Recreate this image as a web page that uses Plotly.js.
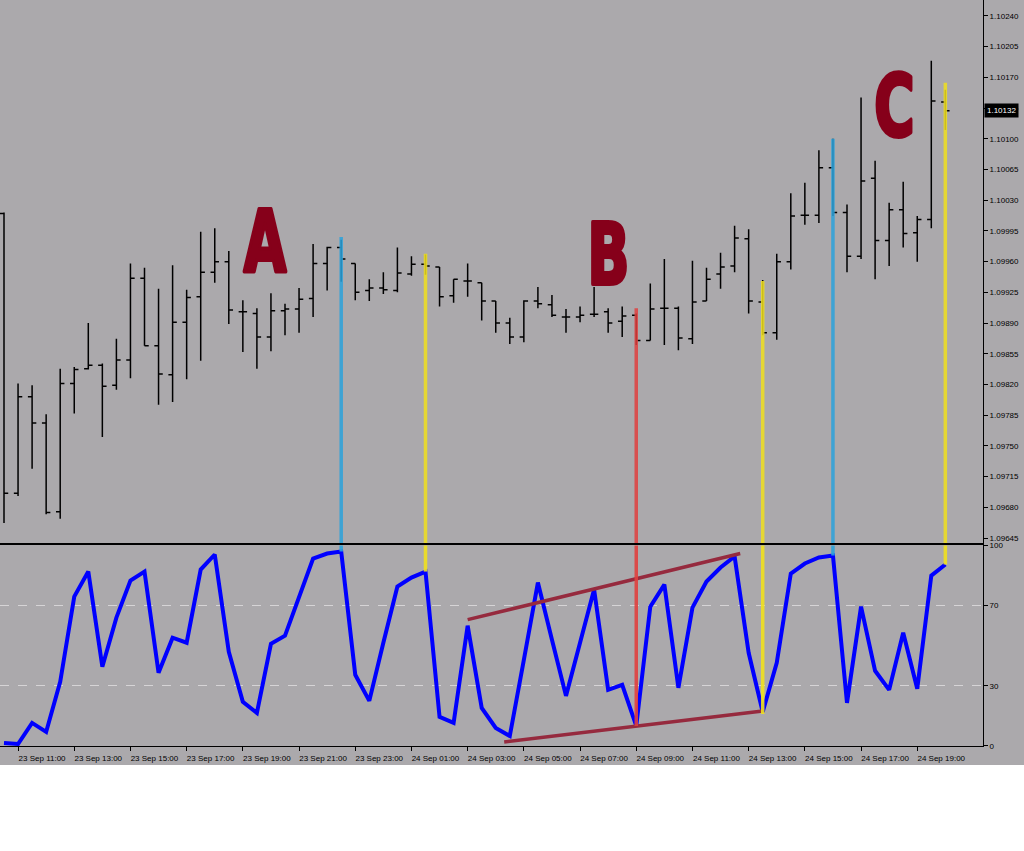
<!DOCTYPE html>
<html>
<head>
<meta charset="utf-8">
<script src="https://cdn.plot.ly/plotly-3.0.1.min.js"></script>
<style>
html,body{margin:0;padding:0;background:#ffffff;}
#chart{width:1024px;height:765px;}
</style>
</head>
<body>
<div id="chart"></div>
<script>
// ---------------- DATA ----------------
const times = [
 '2015-09-23 10:30','2015-09-23 11:00','2015-09-23 11:30','2015-09-23 12:00','2015-09-23 12:30','2015-09-23 13:00',
 '2015-09-23 13:30','2015-09-23 14:00','2015-09-23 14:30','2015-09-23 15:00','2015-09-23 15:30','2015-09-23 16:00',
 '2015-09-23 16:30','2015-09-23 17:00','2015-09-23 17:30','2015-09-23 18:00','2015-09-23 18:30','2015-09-23 19:00',
 '2015-09-23 19:30','2015-09-23 20:00','2015-09-23 20:30','2015-09-23 21:00','2015-09-23 21:30','2015-09-23 22:00',
 '2015-09-23 22:30','2015-09-23 23:00','2015-09-23 23:30','2015-09-24 00:00','2015-09-24 00:30','2015-09-24 01:00',
 '2015-09-24 01:30','2015-09-24 02:00','2015-09-24 02:30','2015-09-24 03:00','2015-09-24 03:30','2015-09-24 04:00',
 '2015-09-24 04:30','2015-09-24 05:00','2015-09-24 05:30','2015-09-24 06:00','2015-09-24 06:30','2015-09-24 07:00',
 '2015-09-24 07:30','2015-09-24 08:00','2015-09-24 08:30','2015-09-24 09:00','2015-09-24 09:30','2015-09-24 10:00',
 '2015-09-24 10:30','2015-09-24 11:00','2015-09-24 11:30','2015-09-24 12:00','2015-09-24 12:30','2015-09-24 13:00',
 '2015-09-24 13:30','2015-09-24 14:00','2015-09-24 14:30','2015-09-24 15:00','2015-09-24 15:30','2015-09-24 16:00',
 '2015-09-24 16:30','2015-09-24 17:00','2015-09-24 17:30','2015-09-24 18:00','2015-09-24 18:30','2015-09-24 19:00',
 '2015-09-24 19:30','2015-09-24 20:00'
];
const open = [
 1.10015,1.09696,1.09806,1.09776,1.09675,1.09821,1.09838,1.09842,1.09819,1.09848,1.09941,1.09864,
 1.09831,1.09891,1.09920,1.09948,1.09960,1.09903,1.09901,1.09874,1.09904,1.09906,1.09918,1.09958,
 1.09976,1.09958,1.09927,1.09930,1.09927,1.09946,1.09957,1.09954,1.09921,1.09938,1.09936,1.09915,
 1.09890,1.09874,1.09915,1.09911,1.09897,1.09897,1.09900,1.09903,1.09892,1.09899,1.09870,1.09907,
 1.09907,1.09872,1.09915,1.09946,1.09955,1.09986,1.09914,1.09879,1.09960,1.10013,1.10013,1.10067,
 1.10016,1.09966,1.10055,1.09984,1.10019,1.09993,1.10008,1.10142
];
const high = [
 1.10016,1.09821,1.09819,1.09786,1.09838,1.09840,1.09890,1.09844,1.09872,1.09958,1.09953,1.09929,
 1.09956,1.09928,1.09994,1.09998,1.09972,1.09916,1.09907,1.09924,1.09912,1.09930,1.09980,1.09977,
 1.09985,1.09958,1.09940,1.09948,1.09976,1.09966,1.09968,1.09954,1.09940,1.09958,1.09936,1.09915,
 1.09896,1.09916,1.09931,1.09922,1.09906,1.09909,1.09931,1.09907,1.09909,1.09901,1.09935,1.09963,
 1.09909,1.09961,1.09953,1.09970,1.10001,1.09997,1.09939,1.09969,1.10038,1.10050,1.10087,1.10100,
 1.10025,1.10147,1.10075,1.10027,1.10051,1.10012,1.10189,1.10156
];
const low = [
 1.09662,1.09693,1.09724,1.09672,1.09667,1.09787,1.09837,1.09760,1.09814,1.09827,1.09864,1.09797,
 1.09800,1.09826,1.09847,1.09936,1.09889,1.09857,1.09838,1.09858,1.09876,1.09879,1.09897,1.09927,
 1.09937,1.09916,1.09915,1.09923,1.09925,1.09944,1.09945,1.09909,1.09913,1.09920,1.09893,1.09879,
 1.09866,1.09868,1.09907,1.09897,1.09879,1.09891,1.09897,1.09879,1.09874,1.09865,1.09870,1.09865,
 1.09859,1.09866,1.09915,1.09929,1.09948,1.09901,1.09876,1.09871,1.09951,1.10002,1.10004,1.10012,
 1.09948,1.09963,1.09940,1.09955,1.09976,1.09960,1.09998,1.10110
];
const close = [
 1.09696,1.09806,1.09776,1.09674,1.09821,1.09837,1.09842,1.09818,1.09848,1.09941,1.09864,1.09832,
 1.09891,1.09919,1.09948,1.09960,1.09905,1.09903,1.09874,1.09904,1.09906,1.09917,1.09958,1.09976,
 1.09963,1.09925,1.09930,1.09928,1.09947,1.09957,1.09955,1.09920,1.09940,1.09938,1.09915,1.09890,
 1.09874,1.09915,1.09912,1.09899,1.09897,1.09899,1.09900,1.09890,1.09898,1.09870,1.09906,1.09907,
 1.09873,1.09914,1.09940,1.09954,1.09987,1.09915,1.09879,1.09960,1.10012,1.10013,1.10067,1.10016,
 1.09966,1.10052,1.09984,1.10019,1.09992,1.10008,1.10143,1.10132
];
const stoch = [
 1.5,1,11.5,7,32,74.5,87,39.5,64,82.5,87,36.5,
 54,51.5,88,95.5,47,22,16.5,51,55,74.5,93.5,96,
 97,35.5,22.5,51.5,79.5,84,87,14.5,11.5,60,19,9,
 5,43,81.5,53,25,51.5,78,28,30.5,10,69.5,80.5,
 29,69,82,89,94.5,46.5,17,41.5,86,91,94,95,
 21.5,69.5,37.5,28,56.5,28.5,85,90.5
];
// marker lines joining price and oscillator
const markTimes  = ['2015-09-23 22:30','2015-09-24 01:30','2015-09-24 09:00','2015-09-24 13:30','2015-09-24 16:00','2015-09-24 20:00'];
const markPrices = [1.09988,1.09969,1.09907,1.09938,1.10100,1.10164];
const markOsc    = [97,87,10,16,95,90.5];
const markKinds  = ['blue','yellow','red','yellow','blue','yellow'];
// oscillator trend lines
const upperTimes = ['2015-09-24 03:00','2015-09-24 12:42'];
const upperVals  = [63,96];
const lowerTimes = ['2015-09-24 04:18','2015-09-24 13:30'];
const lowerVals  = [2,17.5];
// big letters
const letters      = ['A','B','C'];
const letterTimes  = ['2015-09-23 19:48','2015-09-24 08:00','2015-09-24 18:12'];
const letterPrices = [1.09984,1.09969,1.10137];
// axes
const priceTick0 = 1.09645, priceDtick = 0.00035;
const oscTicks = [0,30,70,100];
const timeTicks = [
 '2015-09-23 11:00','2015-09-23 13:00','2015-09-23 15:00','2015-09-23 17:00','2015-09-23 19:00','2015-09-23 21:00',
 '2015-09-23 23:00','2015-09-24 01:00','2015-09-24 03:00','2015-09-24 05:00','2015-09-24 07:00','2015-09-24 09:00',
 '2015-09-24 11:00','2015-09-24 13:00','2015-09-24 15:00','2015-09-24 17:00','2015-09-24 19:00'
];

// ---------------- STYLE / BUILD ----------------
const BG = '#aba9ac';
const kindColor = {blue:'#2ba3dc', yellow:'#f0e01e', red:'#e0403f'};
const priceRange = [1.096393, 1.102582];
const oscRange = [0, 100];
const xRange = ['2015-09-23 10:21:27', '2015-09-24 21:20:24'];

const traces = [
 {type:'ohlc', x:times, open:open, high:high, low:low, close:close, xaxis:'x', yaxis:'y',
  increasing:{line:{color:'#000', width:1.5}}, decreasing:{line:{color:'#000', width:1.5}},
  tickwidth:0.3, hoverinfo:'skip'},
 {type:'scatter', mode:'lines', x:times, y:stoch, xaxis:'x2', yaxis:'y2',
  line:{color:'#0000ff', width:4}, hoverinfo:'skip'}
];

const shapes = [];
shapes.push({type:'line', xref:'x2', yref:'y2', x0:lowerTimes[0], x1:lowerTimes[1], y0:lowerVals[0], y1:lowerVals[1],
  line:{color:'#962a3e', width:3.5}, layer:'above'});
shapes.push({type:'line', xref:'x2', yref:'y2', x0:upperTimes[0], x1:upperTimes[1], y0:upperVals[0], y1:upperVals[1],
  line:{color:'#962a3e', width:3.5}, layer:'above'});
markTimes.forEach((t,i)=>{
  const c = kindColor[markKinds[i]];
  shapes.push({type:'line', xref:'x', yref:'y', x0:t, x1:t, y0:markPrices[i], y1:priceRange[0]-0.001,
    line:{color:c, width:3.5}, opacity:0.85, layer:'above'});
  shapes.push({type:'line', xref:'x2', yref:'y2', x0:t, x1:t, y0:oscRange[1]+5, y1:markOsc[i],
    line:{color:c, width:3.5}, opacity:0.9, layer:'above'});
});

const letterColor = '#86001a';
const letterFont = {family:'"DejaVu Sans Condensed","Liberation Sans Narrow","Arial Narrow",sans-serif', size:86, color:letterColor};
const annotations = letters.map((l,i)=>({
  xref:'x', yref:'y', x:letterTimes[i], y:letterPrices[i], text:'<b>'+l+'</b>', showarrow:false,
  font:letterFont, xanchor:'center', yanchor:'middle'
}));
const lastPrice = close[close.length-1];
annotations.push({xref:'paper', yref:'y', x:1, y:lastPrice, xanchor:'left', xshift:1, text:lastPrice.toFixed(5),
  showarrow:false, bgcolor:'#000', font:{color:'#fff', size:8, family:'"Liberation Sans",Arial,sans-serif'}, borderpad:2});

const axisFont = {family:'"Liberation Sans",Arial,sans-serif', size:8, color:'#000'};
const layout = {
  width:1024, height:765,
  paper_bgcolor:BG, plot_bgcolor:BG,
  margin:{l:0, r:41, t:0, b:19},
  showlegend:false,
  font:axisFont,
  xaxis:{type:'date', range:xRange, anchor:'y', showline:true, linecolor:'#000', linewidth:1,
    ticks:'', showticklabels:false, showgrid:false, zeroline:false, rangeslider:{visible:false}, fixedrange:true},
  xaxis2:{type:'date', matches:'x', anchor:'y2', showline:true, mirror:true, linecolor:'#000', linewidth:1,
    ticks:'outside', ticklen:4, tickcolor:'#000', tickmode:'array', tickvals:timeTicks, tickformat:'%d %b %H:%M',
    ticklabelshift:24, showgrid:false, zeroline:false, tickfont:axisFont},
  yaxis:{domain:[0.2721,1], anchor:'x', side:'right', range:priceRange, showline:true, linecolor:'#000', linewidth:1,
    ticks:'outside', ticklen:4, tickcolor:'#000', tick0:priceTick0, dtick:priceDtick, tickformat:'.5f',
    showgrid:false, zeroline:false, tickfont:axisFont},
  yaxis2:{domain:[0,0.2688], anchor:'x2', side:'right', range:oscRange, tickmode:'array', tickvals:oscTicks,
    showline:true, linecolor:'#000', linewidth:1, ticks:'outside', ticklen:4, tickcolor:'#000',
    showgrid:true, gridcolor:'#d6d4d6', griddash:'dash', gridwidth:1, zeroline:false, tickfont:axisFont},
  shapes:shapes,
  annotations:annotations
};
Plotly.newPlot('chart', traces, layout, {displayModeBar:false, staticPlot:true}).then(()=>{
  // condensed, heavy poster look for the big letters
  document.querySelectorAll('g.annotation').forEach(g=>{
    const idx = +g.getAttribute('data-index');
    if (idx >= letters.length) return;
    const t = g.querySelector('text.annotation-text');
    if (!t) return;
    t.style.stroke = letterColor;
    t.style.strokeWidth = '4px';
    t.style.strokeLinejoin = 'round';
    const bb = t.getBBox();
    const cx = bb.x + bb.width/2;
    const prev = t.getAttribute('transform') || '';
    t.setAttribute('transform', prev + ' translate(' + cx + ' 0) scale(0.71 1) translate(' + (-cx) + ' 0)');
  });
});
</script>
</body>
</html>
